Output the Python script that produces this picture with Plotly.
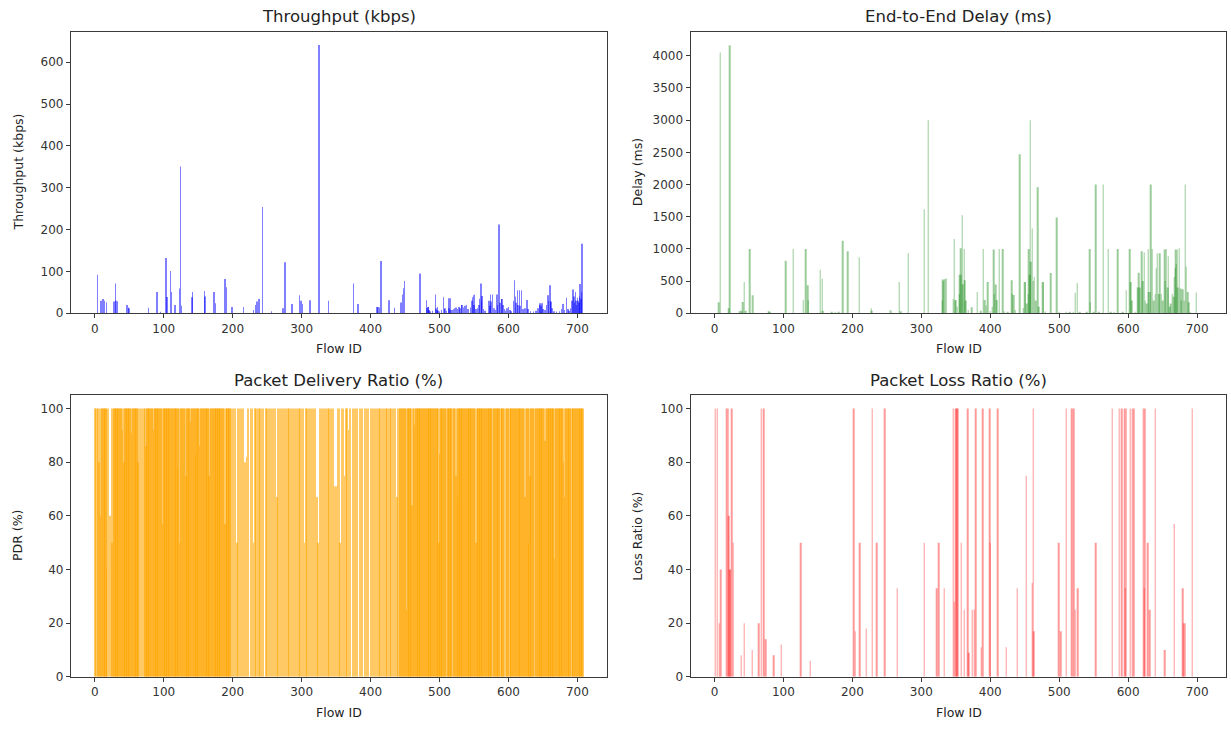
import plotly.graph_objects as go

# Per-flow metrics keyed by flow ID (flows without a bar are omitted)
throughput_kbps = {
    4: 92, 9: 30, 12: 34, 14: 30, 17: 26, 28: 28, 30: 71, 31: 30, 33: 29,
    47: 20, 49: 14, 50: 12, 78: 13, 90: 51, 95: 3, 103: 132, 105: 39,
    110: 101, 111: 51, 116: 20, 123: 59, 124: 351, 126: 18, 141: 38, 142: 51,
    159: 53, 160: 40, 173: 51, 175: 24, 189: 82, 191: 62, 199: 15,
    216: 15, 230: 8, 233: 20, 235: 28, 238: 34, 243: 254, 256: 5, 273: 12,
    276: 122, 286: 22, 297: 43, 299: 30, 301: 22, 312: 31, 325: 641, 339: 30,
    375: 71, 382: 22, 409: 15, 411: 15, 413: 14, 415: 125, 427: 31, 435: 13,
    444: 26, 446: 45, 448: 60, 449: 77, 472: 95,
    481: 31, 482: 12, 483: 15, 484: 15, 485: 8, 486: 5, 490: 6, 494: 45,
    495: 12, 496: 8, 497: 15, 498: 6, 500: 4, 503: 8, 506: 38, 507: 10,
    508: 12, 510: 6, 513: 36, 514: 12, 515: 36, 516: 8, 518: 8, 520: 10,
    522: 12, 524: 14, 526: 10, 528: 15, 530: 12, 532: 20, 533: 20, 535: 14,
    537: 18, 539: 20, 541: 10, 545: 14, 547: 30, 548: 38, 549: 43, 550: 20,
    551: 45, 553: 10, 555: 12, 557: 20, 558: 35, 560: 71, 561: 30, 562: 41,
    564: 10, 566: 6, 572: 30, 573: 18, 574: 45, 575: 28, 577: 45, 579: 12,
    581: 8, 583: 45, 584: 20, 586: 212, 588: 25, 590: 34, 591: 34, 592: 20,
    594: 10, 596: 6, 598: 12, 600: 15, 602: 8, 604: 5, 607: 30, 609: 79,
    610: 40, 611: 25, 613: 55, 614: 20, 616: 55, 617: 18, 619: 55, 621: 10,
    624: 12, 627: 32, 628: 10, 632: 5, 636: 4, 640: 6, 643: 12, 645: 20,
    646: 24, 647: 18, 649: 24, 650: 10, 653: 8, 655: 20, 657: 43, 658: 30,
    660: 67, 661: 28, 662: 28, 663: 12, 666: 5, 670: 4, 674: 5, 677: 10,
    679: 22, 681: 8, 684: 37, 686: 10, 688: 6, 690: 12, 692: 30, 694: 57,
    695: 40, 696: 25, 697: 51, 698: 30, 699: 20, 700: 37, 701: 30, 702: 25,
    703: 40, 704: 70, 705: 35, 706: 50, 707: 166,
}

delay_ms = {
    6: 170, 8: 4050, 21: 77, 22: 4165, 36: 30, 38: 40, 40: 30, 41: 175,
    43: 487, 45: 40, 51: 1000, 55: 280, 56: 280, 79: 30, 80: 25, 103: 815,
    114: 1000, 129: 205, 132: 1000, 135: 435, 136: 200, 153: 677, 156: 538,
    157: 40, 170: 15, 175: 15, 180: 10, 186: 1128, 193: 963, 210: 871,
    227: 77, 228: 40, 255: 50, 256: 40, 268: 487, 270: 30, 281: 932,
    304: 1615, 310: 3000, 330: 200, 331: 523, 332: 500, 334: 530, 336: 543,
    346: 220, 348: 1154, 349: 200, 350: 205, 352: 100, 355: 300, 356: 600,
    357: 1010, 358: 600, 359: 1523, 360: 450, 362: 1000, 363: 512, 364: 200,
    368: 50, 373: 93, 381: 332, 386: 40, 390: 1000, 392: 205, 394: 120,
    396: 487, 400: 30, 403: 100, 405: 990, 406: 300, 408: 446, 409: 205,
    413: 1000, 418: 1000, 420: 30, 425: 20, 431: 512, 432: 300, 434: 282,
    436: 50, 443: 2471, 448: 80, 450: 487, 451: 487, 453: 150, 455: 300,
    456: 1000, 457: 600, 458: 3000, 459: 800, 461: 1317, 462: 500, 464: 563,
    466: 200, 469: 1958, 470: 100, 476: 487, 477: 480, 480: 30, 488: 625,
    496: 1487, 500: 20, 510: 10, 515: 15, 520: 15, 523: 317, 526: 471,
    530: 10, 540: 20, 544: 1000, 545: 170, 550: 15, 553: 2000, 557: 10,
    564: 2000, 571: 1000, 575: 10, 580: 10, 585: 1000, 592: 10, 597: 358,
    602: 1000, 604: 487, 605: 200, 610: 15, 614: 400, 615: 630, 617: 400,
    620: 963, 621: 500, 623: 945, 625: 200, 627: 150, 629: 1000, 630: 332,
    632: 332, 633: 2000, 635: 1000, 637: 200, 639: 300, 641: 700, 642: 932,
    644: 300, 646: 932, 648: 300, 650: 200, 653: 990, 654: 500, 655: 1000,
    657: 400, 658: 885, 660: 100, 662: 150, 664: 300, 666: 256, 667: 563,
    668: 700, 669: 990, 670: 760, 671: 990, 672: 400, 674: 1010, 676: 385,
    677: 200, 679: 372, 681: 200, 683: 2000, 684: 728, 686: 332, 688: 170,
    690: 20, 699: 323,
}

# Packet delivery ratio for flow IDs 0..708 (None = no record for that ID)
N = None
pdr_pct = [
    100, N, 100, N, 100, 100, 80, 100, 60, 100, 100, 100, 100, 100, 100, 100, 100, 40, 100, N,
    100, N, 60, N, 100, 50, 100, 100, 100, 100, 100, 100, 100, 100, 100, 100, 100, 100, 100, 100,
    92, 100, 80, 100, 100, 100, 100, 100, 100, 100, 100, 100, 100, 91, 100, 100, 100, 100, 100, 100,
    100, 100, 100, 80, 100, N, 100, N, 100, N, 100, N, 100, 100, 86, 100, 100, 100, 100, 100,
    100, 100, 100, 100, 100, 92, 100, 100, 100, 100, 100, 100, 100, 100, 100, 100, 100, 100, 57, 100,
    100, 100, 100, 100, 100, 100, 100, 100, 100, 100, 100, 100, 100, 100, 100, 100, 100, 100, 100, 100,
    78, 100, 100, 50, 100, 100, 100, 100, 100, 100, 100, 100, 75, 100, 100, 100, 100, 100, 100, 95,
    100, 100, 100, 100, 100, 100, 83, 100, 100, 100, 100, 100, 86, 100, 100, 100, 100, 100, 100, 100,
    100, 100, 100, 100, 100, 100, 75, 100, 100, 100, 100, 100, 100, 100, 100, 100, 100, 100, 100, 100,
    100, 100, 100, 100, 100, 100, 100, 100, 100, 57, 100, 100, 100, 100, 100, 100, 100, 100, 100, N,
    100, N, 100, N, 100, N, 50, N, 100, N, 100, N, 100, N, 100, N, 100, N, 80, N,
    82, N, 100, N, N, N, 100, N, 100, N, 50, N, 100, N, 100, N, 100, N, 100, N,
    100, N, 100, N, 100, N, N, N, 100, N, 100, N, 100, N, 100, N, 100, N, 100, N,
    100, N, 100, N, 67, N, 100, N, 100, N, 100, N, 100, N, 100, N, 100, N, 100, N,
    100, N, 100, N, 100, N, 100, N, 100, N, 100, N, 100, N, 100, N, 100, N, 100, N,
    100, N, 100, N, 50, N, 100, N, 100, N, 100, N, 100, N, 100, N, 100, N, 100, N,
    100, N, 67, N, 50, N, 100, N, 100, N, 100, N, 100, N, 100, N, 100, N, 100, N,
    100, N, 100, N, 100, N, 100, N, 71, N, 71, N, 100, N, 100, N, 50, N, 100, N,
    100, N, 75, N, 100, N, 100, N, 92, N, 100, N, N, N, 100, N, 100, N, 100, N,
    100, N, N, N, 100, N, 100, N, 100, N, N, N, 100, N, 100, N, 100, N, N, N,
    100, N, 100, N, 100, N, 100, N, 100, N, 100, N, 100, N, 100, N, 100, N, 100, N,
    100, N, 100, N, 100, N, 100, N, 100, N, 100, N, 100, N, 100, N, 100, N, 67, N,
    100, N, 100, 100, 100, 100, 100, 100, 100, 100, 100, 100, 25, 100, 100, 100, 100, 100, 100, 100,
    64, 100, 100, 100, 94, 100, 100, 100, 100, 100, 100, 100, 100, 100, 100, 100, 100, 100, 100, 100,
    100, 100, 100, 100, 100, 100, 100, 100, 100, 100, 100, 100, 100, 100, 100, 100, 100, 100, 100, 50,
    83, 100, 100, 100, 100, 100, 100, 100, 100, 100, N, 100, 100, 100, 100, 100, 100, 100, 100, N,
    100, 100, 100, 100, 75, 100, 67, 100, 100, 100, 100, 100, 100, 100, 100, 100, 100, 100, 100, 100,
    100, 100, 100, 100, 100, 100, 100, 100, 100, 100, 100, 100, 100, 50, 100, 100, 100, 100, 100, 100,
    100, 100, 100, 100, 100, 100, 100, 100, 100, 100, 100, 100, 100, 100, 100, 100, 100, N, 100, 100,
    100, 100, 100, 100, 100, 100, 100, 100, N, 100, 100, 100, 100, 100, 100, N, 100, 100, 100, 100,
    100, N, 100, 100, 100, 100, 100, 100, 100, 100, 100, 100, 100, 100, 100, 100, 100, 100, 100, N,
    100, 100, 100, 100, 67, 100, 100, 100, 100, 50, 100, 75, 100, 100, 100, 100, 100, 100, N, 100,
    100, 100, 100, 100, 100, 100, 100, 100, 100, 100, 100, 100, 100, 88, 100, 100, 100, 100, 100, 100,
    100, 100, 100, 100, 100, 100, 100, 44, 100, 100, 100, 100, 100, 100, 100, 100, 100, 100, 100, 100,
    80, 67, 100, 100, 100, 100, 100, 100, 100, 100, 100, N, 100, 100, 100, 100, 100, 100, 100, 100,
    100, 100, 100, 100, 100, 100, 100, 100, 100,
]

loss_pct = {
    1: 100, 4: 100, 7: 20, 9: 40, 18: 100, 20: 100, 21: 60, 22: 40, 23: 40,
    25: 100, 27: 50, 39: 8, 43: 20, 55: 10, 64: 20, 68: 100, 71: 100, 74: 14,
    86: 8, 97: 12, 125: 50, 139: 6, 202: 100, 204: 17, 211: 50, 220: 18,
    229: 100, 235: 50, 247: 100, 265: 33, 304: 50, 322: 33, 325: 50, 333: 33,
    346: 100, 348: 28, 350: 100, 351: 100, 353: 100, 358: 50, 362: 25,
    367: 100, 369: 9, 374: 25, 377: 25, 379: 100, 387: 11, 389: 100, 399: 100,
    400: 50, 411: 100, 423: 11, 439: 33, 452: 75, 461: 35, 462: 100, 463: 17,
    499: 50, 502: 17, 510: 100, 518: 100, 521: 100, 523: 25, 527: 33, 553: 50,
    577: 100, 587: 100, 591: 100, 595: 100, 596: 33, 597: 100, 603: 100,
    606: 100, 608: 100, 622: 100, 623: 33, 624: 100, 628: 50, 631: 25,
    639: 100, 653: 10, 667: 57, 679: 33, 680: 20, 682: 20, 693: 100,
}

FONT = "DejaVu Sans"
W, H = 1231, 732

# Panel frames in pixels: (left, right) and (top, bottom)
COLS = [(71, 606.7), (690.7, 1226.4)]
ROWS = [(32, 316.3), (399, 683.3)]


def xdom(c):
    return [COLS[c][0] / W, COLS[c][1] / W]


def ydom(r):
    return [1 - ROWS[r][1] / H, 1 - ROWS[r][0] / H]


def series(values):
    if isinstance(values, dict):
        return list(values.keys()), list(values.values())
    xs = [i for i, v in enumerate(values) if v is not None]
    ys = [v for v in values if v is not None]
    return xs, ys


panels = [
    # data, colour, opacity, row, col, title, ylabel, ymax, ytick step
    (throughput_kbps, "#0000ff", 0.5, 0, 0, "Throughput (kbps)", "Throughput (kbps)", 673, 100),
    (delay_ms, "#008000", 0.4, 0, 1, "End-to-End Delay (ms)", "Delay (ms)", 4374, 500),
    (pdr_pct, "#ffa500", 0.6, 1, 0, "Packet Delivery Ratio (%)", "PDR (%)", 105, 20),
    (loss_pct, "#ff0000", 0.4, 1, 1, "Packet Loss Ratio (%)", "Loss Ratio (%)", 105, 20),
]

fig = go.Figure()
annotations = []
layout_axes = {}
axis_style = dict(
    showline=True, linecolor="#3a3a3a", linewidth=1.3, mirror=True,
    ticks="outside", ticklen=4, tickwidth=1, tickcolor="#3a3a3a",
    showgrid=False, zeroline=False,
    tickfont=dict(family=FONT, size=12, color="#333333"),
)

for k, (data, color, op, r, c, title, ylab, ymax, ystep) in enumerate(panels):
    idx = "" if k == 0 else str(k + 1)
    xs, ys = series(data)
    fig.add_trace(go.Bar(
        x=xs, y=ys, width=0.8,
        marker=dict(color=color, opacity=op, line=dict(width=0)),
        xaxis="x" + idx, yaxis="y" + idx, hoverinfo="skip", showlegend=False,
    ))
    layout_axes["xaxis" + idx] = dict(
        axis_style, domain=xdom(c), anchor="y" + idx, range=[-34.5, 742.5],
        tickmode="array", tickvals=[0, 100, 200, 300, 400, 500, 600, 700],
    )
    layout_axes["yaxis" + idx] = dict(
        axis_style, domain=ydom(r), anchor="x" + idx, range=[0, ymax],
        tick0=0, dtick=ystep,
    )
    x0, x1 = COLS[c]
    y0, y1 = ROWS[r]
    cx = (x0 + x1) / 2
    annotations.append(dict(
        text=title, x=cx / W, y=1 - (y0 - 15) / H, xref="paper", yref="paper",
        xanchor="center", yanchor="middle", showarrow=False,
        font=dict(family=FONT, size=16.5, color="#222222"),
    ))
    annotations.append(dict(
        text="Flow ID", x=cx / W, y=1 - (y1 + 36) / H, xref="paper", yref="paper",
        xanchor="center", yanchor="middle", showarrow=False,
        font=dict(family=FONT, size=12.5, color="#222222"),
    ))
    annotations.append(dict(
        text=ylab, x=(x0 - 53) / W, y=1 - (y0 + y1) / 2 / H, xref="paper", yref="paper",
        xanchor="center", yanchor="middle", textangle=-90, showarrow=False,
        font=dict(family=FONT, size=12.5, color="#222222"),
    ))

fig.update_layout(
    width=W, height=H,
    margin=dict(l=0, r=0, t=0, b=0),
    paper_bgcolor="white", plot_bgcolor="white",
    barmode="overlay",
    annotations=annotations,
    font=dict(family=FONT),
    **layout_axes,
)

fig.write_html("out.html")
